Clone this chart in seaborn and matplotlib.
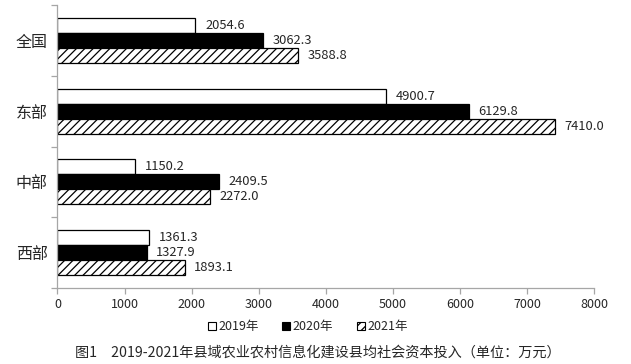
import matplotlib
matplotlib.use("Agg")
import matplotlib.pyplot as plt
import seaborn as sns
import pandas as pd
from matplotlib.patches import Patch
from matplotlib.ticker import FixedLocator

regions = ['全国', '东部', '中部', '西部']
years = ['2019年', '2020年', '2021年']
v2019 = [2054.6, 4900.7, 1150.2, 1361.3]
v2020 = [3062.3, 6129.8, 2409.5, 1327.9]
v2021 = [3588.8, 7410.0, 2272.0, 1893.1]
xticks = [0, 1000, 2000, 3000, 4000, 5000, 6000, 7000, 8000]
title = '图1　2019-2021年县域农业农村信息化建设县均社会资本投入（单位：万元）'

rows = []
for yr, vals in zip(years, [v2019, v2020, v2021]):
    for r, v in zip(regions, vals):
        rows.append({'region': r, 'year': yr, 'value': v})
df = pd.DataFrame(rows)

sns.set_style('white')
plt.rcParams['font.family'] = ['Noto Sans CJK SC', 'DejaVu Sans']
plt.rcParams['hatch.linewidth'] = 0.9

fig = plt.figure(figsize=(6.31, 3.64), dpi=100)
ax = fig.add_axes([0.0911, 0.209, 0.942 - 0.0911, 0.986 - 0.209])

colors = ['white', 'black', 'white']
sns.barplot(data=df, y='region', x='value', hue='year', orient='h',
            hue_order=years, order=regions, palette=colors, width=0.64,
            edgecolor='black', linewidth=0.9, legend=False, ax=ax, saturation=1)

hatches = [None, None, '////']
for cont, h in zip(ax.containers, hatches):
    for bar in cont:
        if h:
            bar.set_hatch(h)
        bar.set_edgecolor('black')
    ax.bar_label(cont, fmt='%.1f', padding=7, fontsize=9.3)

ax.set_xlim(0, 8000)
ax.set_xticks(xticks)
ax.set_ylim(3.5, -0.5)
ax.set_xlabel('')
ax.set_ylabel('')

grey = '#a6a6a6'
for s in ['top', 'right']:
    ax.spines[s].set_visible(False)
for s in ['left', 'bottom']:
    ax.spines[s].set_color(grey)
    ax.spines[s].set_linewidth(0.9)

ax.tick_params(axis='x', which='major', length=4, color=grey, width=0.9,
               labelsize=9, pad=3, direction='out', bottom=True)
ax.tick_params(axis='y', which='major', length=0, labelsize=11.5, pad=7)
ax.yaxis.set_minor_locator(FixedLocator([-0.5, 0.5, 1.5, 2.5, 3.5]))
ax.tick_params(axis='y', which='minor', length=4, color=grey, width=0.9,
               direction='out', left=True)

handles = [Patch(facecolor='white', edgecolor='black', linewidth=0.8, label=years[0]),
           Patch(facecolor='black', edgecolor='black', linewidth=0.8, label=years[1]),
           Patch(facecolor='white', edgecolor='black', linewidth=0.8, hatch='////', label=years[2])]
fig.legend(handles=handles, loc='center', bbox_to_anchor=(0.488, 0.102), ncol=3,
           frameon=False, fontsize=9, handlelength=0.65, handleheight=0.65,
           handletextpad=0.2, columnspacing=1.9, borderaxespad=0)

fig.text(0.503, 0.032, title, ha='center', va='center', fontsize=10.2)

fig.savefig('out.png', dpi=100)
